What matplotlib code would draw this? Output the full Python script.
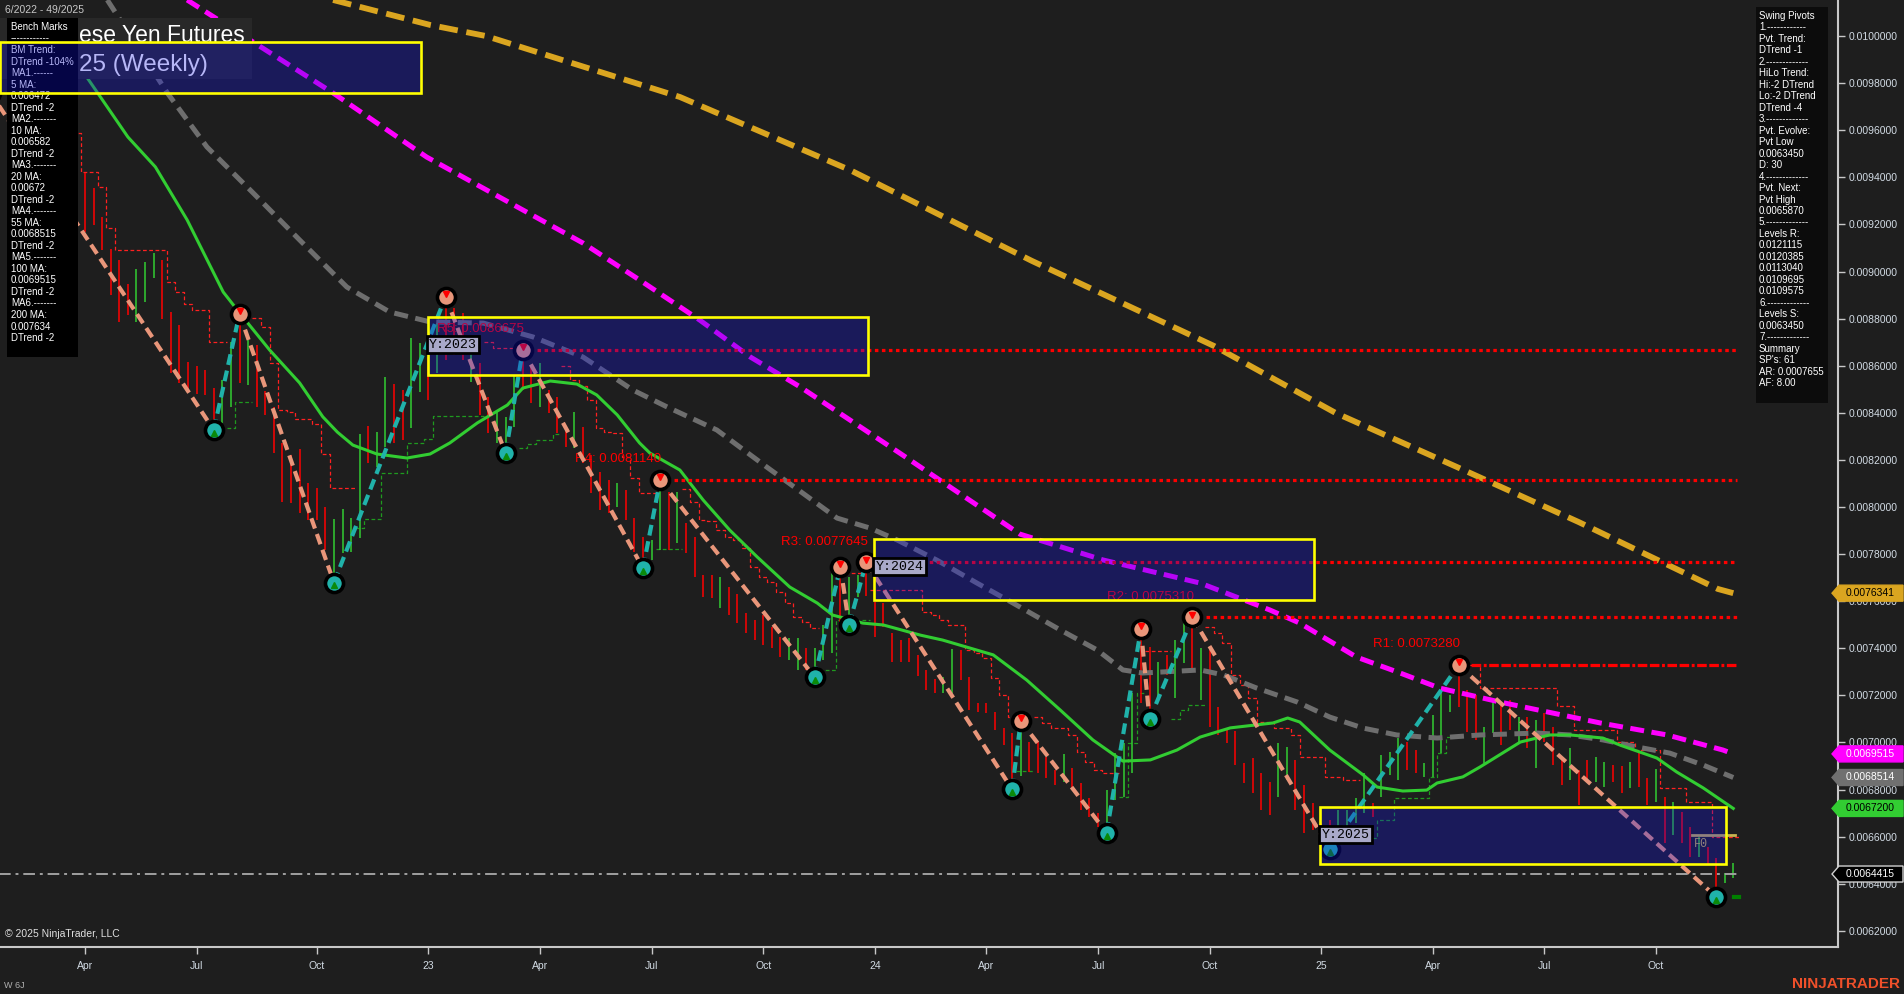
import matplotlib
matplotlib.use('Agg')
import matplotlib.pyplot as plt
from matplotlib.patches import Rectangle, Polygon
import numpy as np
import pandas as pd

plt.rcParams['font.family'] = ['Liberation Sans', 'DejaVu Sans']

# ---------------- data (6J weekly) ----------------
first_bar = 6          # earlier bars sit behind the Bench Marks panel
first_date = '2022-02-11'
n_dates = 200

bar_high = [
    0.009403, 0.009417, 0.009353, 0.009230, 0.009094, 0.009049, 0.008947, 0.009011, 0.009040, 0.009077,
    0.009049, 0.008828, 0.008773, 0.008614, 0.008599, 0.008582, 0.008507, 0.008539, 0.008702, 0.008837,
    0.008709, 0.008688, 0.008494, 0.008426, 0.008270, 0.008221, 0.008245, 0.008100, 0.008079, 0.007999,
    0.007948, 0.007990, 0.007952, 0.008309, 0.008345, 0.008320, 0.008553, 0.008522, 0.008497, 0.008716,
    0.008695, 0.008638, 0.008780, 0.008907, 0.008844, 0.008822, 0.008688, 0.008610, 0.008468, 0.008412,
    0.008384, 0.008560, 0.008680, 0.008596, 0.008610, 0.008497, 0.008468, 0.008341, 0.008405, 0.008341,
    0.008221, 0.008150, 0.008115, 0.008101, 0.008072, 0.007952, 0.007874, 0.007860, 0.008115, 0.008065,
    0.008065, 0.007931, 0.007874, 0.007711, 0.007711, 0.007704, 0.007662, 0.007631, 0.007548, 0.007520,
    0.007541, 0.007492, 0.007449, 0.007442, 0.007442, 0.007400, 0.007400, 0.007499, 0.007718, 0.007750,
    0.007704, 0.007711, 0.007765, 0.007598, 0.007591, 0.007463, 0.007435, 0.007442, 0.007370, 0.007308,
    0.007268, 0.007279, 0.007396, 0.007393, 0.007280, 0.007166, 0.007166, 0.007131, 0.007060, 0.007039,
    0.007084, 0.007004, 0.007004, 0.006940, 0.006883, 0.006951, 0.006890, 0.006827, 0.006763, 0.006699,
    0.006798, 0.006954, 0.006996, 0.007209, 0.007495, 0.007407, 0.007343, 0.007371, 0.007435, 0.007513,
    0.007531, 0.007400, 0.007393, 0.007152, 0.007053, 0.007050, 0.006912, 0.006933, 0.006869, 0.006834,
    0.006996, 0.006982, 0.006926, 0.006819, 0.006742, 0.006657, 0.006671, 0.006713, 0.006713, 0.006763,
    0.006869, 0.006742, 0.006947, 0.006961, 0.007018, 0.007004, 0.006968, 0.006912, 0.007117, 0.007216,
    0.007202, 0.007328, 0.007223, 0.007202, 0.007067, 0.007180, 0.007173, 0.007180, 0.007110, 0.007110,
    0.007096, 0.007124, 0.007067, 0.006933, 0.006975, 0.006883, 0.006926, 0.006940, 0.006919, 0.006904,
    0.006900, 0.006919, 0.006954, 0.006848, 0.006886, 0.006770, 0.006749, 0.006706, 0.006643, 0.006600,
    0.006558, 0.006508, 0.006444, 0.006490,
]
bar_low = [
    0.009198, 0.009169, 0.009198, 0.009091, 0.008900, 0.008787, 0.008815, 0.008784, 0.008872, 0.008971,
    0.008797, 0.008568, 0.008525, 0.008500, 0.008480, 0.008476, 0.008341, 0.008355, 0.008426, 0.008525,
    0.008518, 0.008426, 0.008391, 0.008231, 0.008023, 0.008016, 0.007973, 0.007945, 0.007945, 0.007817,
    0.007690, 0.007803, 0.007810, 0.007867, 0.008185, 0.008171, 0.008256, 0.008270, 0.008284, 0.008334,
    0.008490, 0.008454, 0.008568, 0.008624, 0.008645, 0.008624, 0.008532, 0.008391, 0.008313, 0.008270,
    0.008242, 0.008341, 0.008497, 0.008440, 0.008426, 0.008398, 0.008313, 0.008256, 0.008249, 0.008185,
    0.008058, 0.007987, 0.007973, 0.008001, 0.007945, 0.007810, 0.007747, 0.007775, 0.007817, 0.007817,
    0.007846, 0.007803, 0.007704, 0.007619, 0.007612, 0.007570, 0.007541, 0.007506, 0.007464, 0.007435,
    0.007414, 0.007400, 0.007364, 0.007350, 0.007308, 0.007308, 0.007294, 0.007350, 0.007379, 0.007513,
    0.007500, 0.007619, 0.007620, 0.007449, 0.007492, 0.007343, 0.007343, 0.007343, 0.007284, 0.007223,
    0.007209, 0.007209, 0.007209, 0.007265, 0.007138, 0.007131, 0.007124, 0.007053, 0.006989, 0.006815,
    0.006858, 0.006876, 0.006869, 0.006848, 0.006820, 0.006834, 0.006798, 0.006713, 0.006685, 0.006643,
    0.006628, 0.006756, 0.006770, 0.006869, 0.007166, 0.007110, 0.007181, 0.007287, 0.007188, 0.007336,
    0.007300, 0.007180, 0.007067, 0.007032, 0.006996, 0.006904, 0.006827, 0.006784, 0.006713, 0.006692,
    0.006770, 0.006841, 0.006713, 0.006614, 0.006628, 0.006586, 0.006565, 0.006600, 0.006600, 0.006657,
    0.006699, 0.006685, 0.006770, 0.006862, 0.006841, 0.006883, 0.006869, 0.006855, 0.006855, 0.006954,
    0.007131, 0.007152, 0.007046, 0.007011, 0.006912, 0.007039, 0.006989, 0.007053, 0.007004, 0.006975,
    0.006890, 0.007004, 0.006904, 0.006820, 0.006841, 0.006735, 0.006841, 0.006834, 0.006812, 0.006834,
    0.006784, 0.006805, 0.006812, 0.006735, 0.006749, 0.006572, 0.006607, 0.006572, 0.006515, 0.006515,
    0.006480, 0.006345, 0.006402, 0.006423,
]
bar_dir = ("rrrrrrr" "ggg" "rrrrrrr" "gg" "r" "g" "rrrrrrrrr" "gggg" "r" "gg" "rr" "gg" "r" "g"
           "rrr" "g" "rr" "ggg" "rr" "g" "rrr" "g" "rrrr" "g" "rrr" "gg" "r" "g" "rrrr" "g"
           "rrrrrrr" "gg" "r" "ggg" "r" "gg" "rrrrrrrrr" "gg" "rrrrrrr" "g" "rrrr" "g" "rrrr"
           "gggg" "rr" "g" "r" "gg" "r" "g" "rrrrrrrr" "gg" "rrrrr" "gggg" "r" "ggg" "rr" "gggg"
           "rrr" "gg" "rr" "g" "r" "g" "rrr" "g" "rr" "gg" "rr" "g" "rr" "g" "r" "g" "rr" "g"
           "rr" "gg")

# moving averages (bar position, value)
ma20_x = [4.0, 6.4, 8.8, 12.0, 15.2, 18.9, 23.1, 25.1, 28.5, 32.0, 34.7, 36.4, 38.2, 41.0, 44.5, 47.2,
          49.5, 52.7, 56.2, 58.0, 61.2, 64.3, 66.6, 69.0, 71.6, 72.8, 76.3, 79.0, 82.1, 85.3, 89.1,
          92.3, 94.1, 97.6, 100.0, 104.3, 106.9, 112.8, 116.7, 120.6, 124.4, 127.9, 131.1, 134.2,
          136.9, 140.4, 145.4, 147.1, 148.5, 152.0, 155.9, 157.5, 160.5, 163.3, 164.5, 167.5, 169.5,
          174.2, 177.6, 180.0, 183.8, 185.8, 190.1, 192.4, 195.5, 199.0]
ma20_y = [0.009980, 0.009868, 0.009741, 0.009571, 0.009444, 0.009219, 0.008913, 0.008820, 0.008667,
          0.008527, 0.008383, 0.008318, 0.008263, 0.008225, 0.008208, 0.008225, 0.008272, 0.008357,
          0.008433, 0.008505, 0.008535, 0.008522, 0.008476, 0.008391, 0.008272, 0.008229, 0.008157,
          0.008030, 0.007902, 0.007788, 0.007660, 0.007592, 0.007541, 0.007507, 0.007499, 0.007456,
          0.007435, 0.007372, 0.007265, 0.007138, 0.007011, 0.006921, 0.006926, 0.006968, 0.007023,
          0.007062, 0.007083, 0.007104, 0.007087, 0.006968, 0.006862, 0.006811, 0.006794, 0.006798,
          0.006828, 0.006854, 0.006896, 0.007002, 0.007032, 0.007032, 0.007019, 0.006989, 0.006934,
          0.006875, 0.006807, 0.006720]
ma55_x = [9.6, 16.6, 21.2, 26.6, 32.0, 37.5, 42.5, 47.2, 53.4, 59.2, 65.0, 70.8, 74.8, 80.6, 86.4,
          90.6, 94.6, 98.4, 101.6, 106.2, 110.9, 115.1, 120.6, 124.9, 127.9, 130.2, 136.9, 139.6,
          143.5, 148.2, 152.0, 155.9, 159.8, 164.5, 169.5, 176.1, 180.0, 183.8, 187.8, 191.6, 195.5,
          199.0]
ma55_y = [0.010153, 0.009758, 0.009529, 0.009333, 0.009134, 0.008934, 0.008828, 0.008786, 0.008781,
          0.008722, 0.008637, 0.008497, 0.008425, 0.008327, 0.008170, 0.008059, 0.007953, 0.007911,
          0.007860, 0.007775, 0.007677, 0.007592, 0.007478, 0.007393, 0.007308, 0.007295, 0.007308,
          0.007287, 0.007231, 0.007172, 0.007108, 0.007061, 0.007032, 0.007019, 0.007032, 0.007040,
          0.007032, 0.007011, 0.006981, 0.006955, 0.006904, 0.0068514]
ma100_x = [18.9, 35.9, 46.8, 65.0, 71.6, 78.6, 84.5, 90.3, 101.9, 115.9, 125.6, 136.9, 145.0, 148.5,
           155.1, 160.2, 164.8, 171.8, 183.5, 191.3, 197.8, 199.0]
ma100_y = [0.010153, 0.009758, 0.009486, 0.009121, 0.008964, 0.008794, 0.008637, 0.008510, 0.008229,
           0.007885, 0.007775, 0.007677, 0.007563, 0.007507, 0.007363, 0.007295, 0.007231, 0.007172,
           0.007083, 0.007032, 0.006968, 0.0069515]
ma200_x = [35.9, 47.2, 53.7, 76.3, 96.1, 117.3, 138.5, 152.7, 166.8, 181.0, 197.2, 199.0]
ma200_y = [0.010153, 0.010047, 0.010000, 0.009741, 0.009431, 0.009045, 0.008684, 0.008399, 0.008170,
           0.007936, 0.007652, 0.0076341]

# swing pivots (zig-zag)
pivot_bar = [-4, 22, 25, 36, 49, 56, 58, 72, 74, 92, 95, 96, 98, 115, 116, 126, 130, 131, 136, 152, 167, 197]
pivot_val = [0.009758, 0.008327, 0.008820, 0.007679, 0.008893, 0.008228, 0.0086675, 0.007740, 0.0081140,
             0.007277, 0.007747, 0.007499, 0.0077645, 0.006801, 0.007091, 0.006617, 0.007481, 0.007098,
             0.0075310, 0.006548, 0.0073280, 0.0063450]
pivot_kind = "HLHLHLHLHLHLHLHLHLHLHL"

level_name = ['R5', 'R4', 'R3', 'R2', 'R1']
level_val = [0.0086675, 0.0081140, 0.0077645, 0.0075310, 0.0073280]
level_bar = [58, 74, 98, 136, 167]

year_label = ['Y:2023', 'Y:2024', 'Y:2025']
year_first = [47, 99, 151]
year_last = [98, 150, 198]
year_top = [0.008807, 0.007864, 0.006727]
year_bot = [0.008561, 0.007605, 0.006483]

# stepped swing stop line: (side, first bar, last bar, value)
stop_runs = [
    ('r', 6, 6, 0.009587), ('r', 7, 8, 0.009424), ('r', 9, 9, 0.009360), ('r', 10, 10, 0.009183),
    ('r', 11, 16, 0.009091), ('r', 17, 17, 0.008957), ('r', 18, 18, 0.008914), ('r', 19, 19, 0.008861),
    ('r', 20, 21, 0.008837), ('r', 22, 23, 0.008699),
    ('g', 24, 24, 0.008334), ('g', 25, 26, 0.008447),
    ('r', 27, 27, 0.008801), ('r', 28, 28, 0.008766), ('r', 29, 29, 0.008610), ('r', 30, 30, 0.008412),
    ('r', 31, 31, 0.008402), ('r', 32, 33, 0.008372), ('r', 34, 34, 0.008352), ('r', 35, 35, 0.008225),
    ('r', 36, 38, 0.008079),
    ('g', 39, 39, 0.007909), ('g', 40, 41, 0.007948), ('g', 42, 44, 0.008143), ('g', 45, 46, 0.008270),
    ('g', 47, 47, 0.008287), ('g', 48, 53, 0.008386),
    ('r', 54, 54, 0.008701), ('r', 55, 57, 0.008675),
    ('g', 58, 58, 0.008249), ('g', 59, 59, 0.008267), ('g', 60, 61, 0.008284), ('g', 62, 62, 0.008310),
    ('r', 63, 63, 0.008599), ('r', 64, 64, 0.008540), ('r', 65, 65, 0.008514), ('r', 66, 66, 0.008454),
    ('r', 67, 67, 0.008334), ('r', 68, 68, 0.008320), ('r', 69, 69, 0.008313), ('r', 70, 70, 0.008214),
    ('r', 71, 71, 0.008122), ('r', 72, 73, 0.008058),
    ('g', 74, 76, 0.007820),
    ('r', 77, 77, 0.008075), ('r', 78, 78, 0.008022), ('r', 79, 79, 0.007945), ('r', 80, 80, 0.007942),
    ('r', 81, 81, 0.007902), ('r', 82, 82, 0.007874), ('r', 83, 83, 0.007860), ('r', 84, 84, 0.007824),
    ('r', 85, 85, 0.007747), ('r', 86, 86, 0.007704), ('r', 87, 87, 0.007683), ('r', 88, 88, 0.007640),
    ('r', 89, 89, 0.007591), ('r', 90, 90, 0.007534), ('r', 91, 91, 0.007513), ('r', 92, 92, 0.007485),
    ('g', 93, 94, 0.007308), ('g', 95, 95, 0.007520),
    ('r', 96, 97, 0.007718),
    ('g', 98, 98, 0.007520),
    ('r', 99, 104, 0.007647), ('r', 105, 105, 0.007555), ('r', 106, 106, 0.007541), ('r', 107, 107, 0.007520),
    ('r', 108, 109, 0.007499), ('r', 110, 110, 0.007393), ('r', 111, 111, 0.007381), ('r', 112, 112, 0.007357),
    ('r', 113, 113, 0.007272), ('r', 114, 114, 0.007202), ('r', 115, 115, 0.007110),
    ('g', 116, 117, 0.006879),
    ('r', 118, 118, 0.007107), ('r', 119, 119, 0.007081), ('r', 120, 121, 0.007060), ('r', 122, 122, 0.007032),
    ('r', 123, 123, 0.006961), ('r', 124, 124, 0.006919), ('r', 125, 125, 0.006883), ('r', 126, 127, 0.006869),
    ('g', 128, 128, 0.006770), ('g', 129, 129, 0.006996), ('g', 130, 130, 0.007209),
    ('r', 131, 133, 0.007390),
    ('g', 134, 134, 0.007098), ('g', 135, 135, 0.007138), ('g', 136, 137, 0.007159),
    ('r', 138, 138, 0.007492), ('r', 139, 139, 0.007464), ('r', 140, 140, 0.007421), ('r', 141, 141, 0.007287),
    ('r', 142, 142, 0.007244), ('r', 143, 143, 0.007188), ('r', 144, 145, 0.007088), ('r', 146, 147, 0.007060),
    ('r', 148, 148, 0.007032), ('r', 149, 151, 0.006940), ('r', 152, 153, 0.006855), ('r', 154, 155, 0.006841),
    ('g', 156, 157, 0.006593), ('g', 158, 159, 0.006671), ('g', 160, 163, 0.006763), ('g', 164, 164, 0.006855),
    ('g', 165, 165, 0.006954), ('g', 166, 167, 0.007025),
    ('r', 168, 169, 0.007329), ('r', 170, 178, 0.007230), ('r', 179, 180, 0.007155), ('r', 181, 185, 0.007053),
    ('r', 186, 187, 0.007004), ('r', 188, 190, 0.006968), ('r', 191, 193, 0.006805), ('r', 194, 196, 0.006749),
    ('r', 197, 199, 0.006600),
]

last_price = 0.0064415
pivot_low_now = 0.0063450
fib_f0 = 0.006608

tag_vals = [0.0076341, 0.0069515, 0.0068514, 0.0067200, 0.0064415]
tag_face = ['#daa520', '#ff00ff', '#707070', '#32cd32', '#000000']
tag_text = ['black', 'white', 'white', 'black', 'white']

# title, partly hidden behind the Bench Marks panel: only the visible part is written
title_line1 = 'ese Yen Futures'
title_line2 = '25 (Weekly)'

bench_lines = ["Bench Marks", "------------", "BM Trend:", "DTrend -104%", "MA1.------", "5 MA:",
               "0.006472", "DTrend -2", "MA2.-------", "10 MA:", "0.006582", "DTrend -2",
               "MA3.-------", "20 MA:", "0.00672", "DTrend -2", "MA4.-------", "55 MA:",
               "0.0068515", "DTrend -2", "MA5.-------", "100 MA:", "0.0069515", "DTrend -2",
               "MA6.-------", "200 MA:", "0.007634", "DTrend -2"]
pivot_lines = ["Swing Pivots", "1.------------", "Pvt. Trend:", "DTrend -1", "2.-------------",
               "HiLo Trend:", "Hi:-2 DTrend", "Lo:-2 DTrend", "DTrend -4", "3.-------------",
               "Pvt. Evolve:", "Pvt Low", "0.0063450", "D: 30", "4.-------------", "Pvt. Next:",
               "Pvt High", "0.0065870", "5.-------------", "Levels R:", "0.0121115", "0.0120385",
               "0.0113040", "0.0109695", "0.0109575", "6.-------------", "Levels S:", "0.0063450",
               "7.-------------", "Summary", "SP's: 61", "AR: 0.0007655", "AF: 8.00"]

# ---------------- drawing ----------------
W, H = 1904, 994
BG = '#1e1e1e'
AXC = '#c8c8c8'
TXT = '#d2dbe4'


def fx(px):
    return px / W


def fy(py):
    return 1 - py / H


fig = plt.figure(figsize=(W / 100, H / 100), dpi=100, facecolor=BG)
ax = fig.add_axes([0, fy(947), fx(1838), 947 / H])
ax.set_facecolor(BG)
ax.set_xlim(-2.9, 211.2)
ax.set_ylim(0.0061316, 0.0101529)

# step stop line
for side, col in (('r', '#ff2020'), ('g', '#1f9a1f')):
    xs, ys = [], []
    for s, a, b, v in stop_runs:
        if s != side:
            if xs:
                ax.plot(xs, ys, color=col, lw=0.9, dashes=(3, 2), zorder=2)
            xs, ys = [], []
            continue
        right = b + 0.5 if b < 199 else 199.8
        xs += [a - 0.5, right]
        ys += [v, v]
    if xs:
        ax.plot(xs, ys, color=col, lw=0.9, dashes=(3, 2), zorder=2)

# bars
xb = np.arange(first_bar, first_bar + len(bar_high))
cols = ['#ff0000' if c == 'r' else '#32cd32' for c in bar_dir]
ax.vlines(xb, bar_low, bar_high, colors=cols, lw=1.1, zorder=3)

# moving averages
ax.plot(ma200_x, ma200_y, color='#daa520', lw=4.2, dashes=(3.2, 1.5), zorder=4)
ax.plot(ma100_x, ma100_y, color='#ff00ff', lw=3.6, dashes=(2.8, 1.5), zorder=4)
ax.plot(ma55_x, ma55_y, color='#6e6e6e', lw=3.6, dashes=(2.8, 1.5), zorder=4)
ax.plot(ma20_x, ma20_y, color='#32cd32', lw=2.2, zorder=4)

# level lines
for name, v, b in zip(level_name, level_val, level_bar):
    dash = (3, 0.8, 3, 0.8, 0.9, 0.8) if name == 'R1' else (1.1, 1.1)
    ax.plot([b, 199.4], [v, v], color='#ff0000', lw=2.3, dashes=dash, zorder=4.5)
    ax.annotate(f"{name}: {v:.7f}", xy=(b, v), xytext=(1, 15), textcoords='offset points',
                ha='right', va='center', color='#ff0000', fontsize=9.5, zorder=4.6)

# current price line
ax.plot([-3, 199.5], [last_price] * 2, color='#a0a0a0', lw=1.4, dashes=(6, 2.5, 1.5, 2.5), zorder=4)

# zig-zag
for k in range(len(pivot_bar) - 1):
    c = '#e9967a' if pivot_kind[k] == 'H' else '#20b2aa'
    ax.plot(pivot_bar[k:k + 2], pivot_val[k:k + 2], color=c, lw=3.0, dashes=(2.6, 1.4),
            zorder=5, solid_capstyle='butt')
for b, v, k in zip(pivot_bar, pivot_val, pivot_kind):
    face = '#e9967a' if k == 'H' else '#20b2aa'
    ax.plot(b, v, 'o', ms=13, mfc=face, mec='black', mew=2.6, zorder=6)
    if k == 'H':
        ax.plot(b, v + 0.000012, 'v', ms=5, color='#ff0000', zorder=6.5)
    else:
        ax.plot(b, v - 0.000012, '^', ms=5, color='#0a8a0a', zorder=6.5)

# fib + pivot stub at the right end
ax.plot([194.2, 199.2], [fib_f0] * 2, color='#c8b450', lw=2, zorder=5)
ax.text(194.4, fib_f0 - 0.000012, 'F0', color='#c8b450', fontsize=8.5, family='Liberation Mono',
        va='top', ha='left', zorder=5)
ax.plot([199.1, 199.7], [pivot_low_now] * 2, color='#008000', lw=3, zorder=5)

# year boxes (translucent overlay)
for lab, a, b, top, bot in zip(year_label, year_first, year_last, year_top, year_bot):
    ax.add_patch(Rectangle((a - 0.1, bot), b - a + 0.3, top - bot,
                           facecolor=(17 / 255, 17 / 255, 230 / 255, 0.3),
                           edgecolor='#ffff00', lw=1.9, zorder=8))
    ax.annotate(lab, xy=(a - 0.1, top), xytext=(1, -20), textcoords='offset points',
                ha='left', va='center', fontsize=9.5, family='Liberation Mono', color='black',
                bbox=dict(boxstyle='square,pad=0.18', fc='#a9a9c9', ec='black', lw=2), zorder=9)

# axes styling
for s in ('top', 'left'):
    ax.spines[s].set_visible(False)
for s in ('right', 'bottom'):
    ax.spines[s].set_color(AXC)
    ax.spines[s].set_linewidth(1.5)
ax.yaxis.tick_right()
ax.set_yticks(np.round(np.arange(0.0062, 0.01001, 0.0002), 4))
ax.yaxis.set_major_formatter(matplotlib.ticker.FormatStrFormatter('%.7f'))
ax.tick_params(axis='y', colors=AXC, labelcolor=TXT, length=5, width=1, labelsize=7.5, pad=3)

dates = pd.date_range(first_date, periods=n_dates, freq='7D')
tick_pos, tick_lab = [], []
for i in range(1, len(dates)):
    if dates[i].month != dates[i - 1].month and dates[i].month in (1, 4, 7, 10):
        tick_pos.append(i)
        tick_lab.append(dates[i].strftime('%y') if dates[i].month == 1 else dates[i].strftime('%b'))
ax.set_xticks(tick_pos)
ax.set_xticklabels(tick_lab)
ax.tick_params(axis='x', colors=AXC, labelcolor=TXT, length=5, width=1, labelsize=7.5, pad=5)

# price tags on the right axis
for v, fc, tc in zip(tag_vals, tag_face, tag_text):
    yp = H - ax.transData.transform((0, v))[1]
    pts = [(1832, yp), (1839, yp - 8), (1903, yp - 8), (1903, yp + 8), (1839, yp + 8)]
    ec = '#d0d0d0' if fc == '#000000' else fc
    fig.add_artist(Polygon([(fx(px), fy(py)) for px, py in pts], closed=True, fc=fc, ec=ec, lw=1,
                           transform=fig.transFigure, zorder=20))
    fig.text(fx(1846), fy(yp), f"{v:.7f}", color=tc, fontsize=7.5, va='center', ha='left', zorder=21)

# title block
fig.add_artist(Rectangle((0, fy(79)), fx(252), 61 / H, fc='#282828', ec='none',
                         transform=fig.transFigure, zorder=10))
fig.text(fx(79), fy(42), title_line1, color='white', fontsize=16.5, ha='left',
         va='baseline', zorder=10.5)
fig.text(fx(79), fy(71), title_line2, color='white', fontsize=17.5, ha='left',
         va='baseline', zorder=10.5)
fig.text(fx(5), fy(10), '6/2022 - 49/2025', color='#c8c8c8', fontsize=7.5, va='center', zorder=10.5)

# Bench Marks panel
fig.add_artist(Rectangle((fx(7), fy(357)), fx(71), 339 / H, fc='black', ec='none',
                         transform=fig.transFigure, zorder=11))
for k, line in enumerate(bench_lines):
    fig.text(fx(11), fy(27 + 11.52 * k), line, color='white', fontsize=7, va='center', zorder=11.5)

fig.add_artist(Rectangle((0, fy(93)), fx(421), 51 / H, fc=(17 / 255, 17 / 255, 230 / 255, 0.3),
                         ec='#ffff00', lw=1.9, transform=fig.transFigure, zorder=12))

# Swing Pivots panel
fig.add_artist(Rectangle((fx(1756), fy(403)), fx(72), 396 / H, fc='#0c0c0c', ec='none',
                         transform=fig.transFigure, zorder=11))
for k, line in enumerate(pivot_lines):
    fig.text(fx(1759), fy(16 + 11.47 * k), line, color='white', fontsize=7, va='center', zorder=11.5)

# footer texts
fig.text(fx(5), fy(934), '\u00a9 2025 NinjaTrader, LLC', color='#e0e0e0', fontsize=7.5, va='center')
fig.text(fx(4), fy(985), 'W 6J', color='#b0b0b0', fontsize=6.5, va='center')
fig.text(fx(1900), fy(984), 'NINJATRADER', color='#f0502a', fontsize=11, fontweight='bold',
         ha='right', va='center')

fig.savefig('out.png', dpi=100, facecolor=BG)
